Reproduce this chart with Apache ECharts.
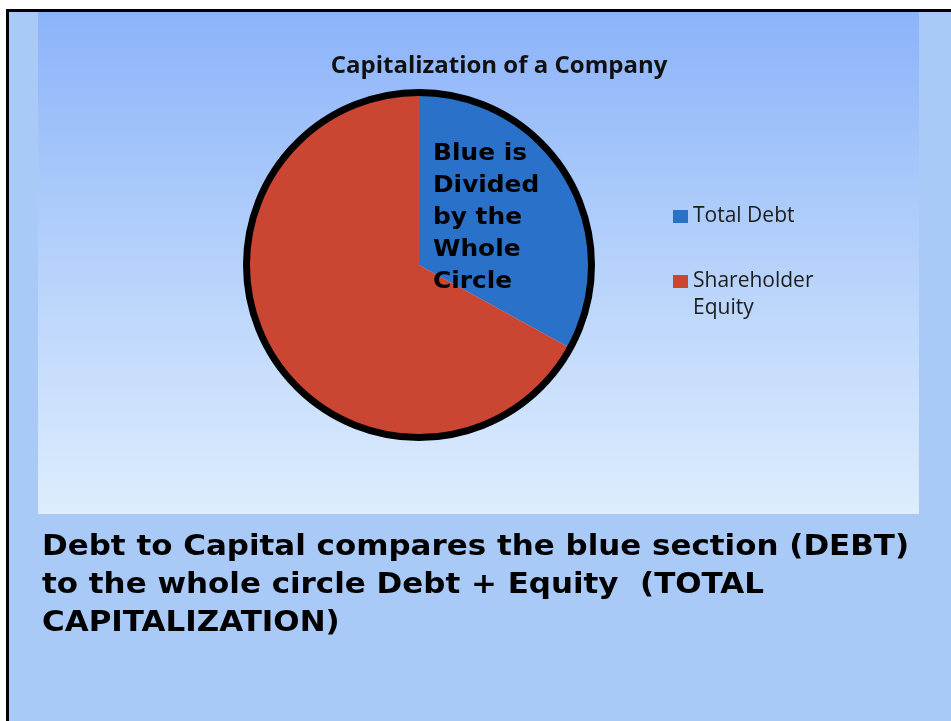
<!DOCTYPE html>
<html>
<head>
<meta charset="utf-8">
<script src="https://cdn.jsdelivr.net/npm/echarts@6/dist/echarts.min.js"></script>
<style>
html,body{margin:0;padding:0;background:#ffffff;}
#chart{width:951px;height:721px;}
</style>
</head>
<body>
<div id="chart"></div>
<script>
// ---- data ----
var categories = ['Total Debt', 'Shareholder Equity'];
var values = [33, 67];
var sliceColors = ['#2a72c9', '#cb4632'];
var titleText = 'Capitalization of a Company';
var pieNote = 'Blue is\nDivided\nby the\nWhole\nCircle';
var captionText = 'Debt to Capital compares the blue section (DEBT)\nto the whole circle Debt + Equity  (TOTAL\nCAPITALIZATION)';

var pieCenter = [419, 265];
var pieRadius = 172;

var chart = echarts.init(document.getElementById('chart'), null, {renderer: 'canvas'});

var pieData = categories.map(function (c, i) {
  return {name: c, value: values[i], itemStyle: {color: sliceColors[i]}};
});

var legendText = {fontFamily: 'Open Sans', fontSize: 21, color: '#1c1c1c', lineHeight: 27};

var option = {
  animation: false,
  backgroundColor: '#ffffff',
  title: {
    text: titleText,
    left: 499,
    textAlign: 'center',
    top: 54,
    padding: 0,
    textStyle: {fontFamily: 'Open Sans', fontWeight: 'bold', fontSize: 24, color: '#111111'}
  },
  legend: [
    {
      data: [categories[0]],
      orient: 'vertical',
      left: 673,
      top: 203,
      padding: 0,
      itemWidth: 15,
      itemHeight: 13,
      icon: 'rect',
      selectedMode: false,
      textStyle: legendText
    },
    {
      data: [categories[1]],
      orient: 'vertical',
      left: 673,
      top: 241,
      padding: 0,
      itemWidth: 15,
      itemHeight: 13,
      icon: 'rect',
      selectedMode: false,
      formatter: function (n) { return '\n' + n.replace(' ', '\n'); },
      textStyle: legendText
    }
  ],
  graphic: [
    {type: 'rect', z: -20, shape: {x: 6, y: 9, width: 960, height: 730}, style: {fill: '#000000'}},
    {type: 'rect', z: -19, shape: {x: 9, y: 12, width: 960, height: 730}, style: {fill: '#a9c9f6'}},
    {type: 'rect', z: -18, shape: {x: 38, y: 12, width: 881, height: 502},
      style: {fill: new echarts.graphic.LinearGradient(0, 0, 0, 1, [
        {offset: 0, color: '#8cb3fa'},
        {offset: 0.5, color: '#b6d2fb'},
        {offset: 1, color: '#ddedfd'}
      ])}},
    {type: 'circle', z: 50, shape: {cx: pieCenter[0], cy: pieCenter[1], r: pieRadius + 0.5},
      style: {fill: 'none', stroke: '#000000', lineWidth: 7}},
    {type: 'text', z: 60, x: 433, y: 138, scaleX: 1.08,
      style: {text: pieNote, font: 'bold 23px "DejaVu Sans"', lineHeight: 32, fill: '#000000', verticalAlign: 'top'}},
    {type: 'text', z: 60, x: 42, y: 528, scaleX: 1.067,
      style: {text: captionText, font: 'bold 29px "DejaVu Sans"', lineHeight: 38, fill: '#000000', verticalAlign: 'top'}}
  ],
  series: [{
    type: 'pie',
    center: pieCenter,
    radius: pieRadius,
    startAngle: 90,
    clockwise: true,
    silent: true,
    label: {show: false},
    labelLine: {show: false},
    itemStyle: {borderWidth: 0},
    data: pieData
  }]
};
chart.setOption(option);
</script>
</body>
</html>
